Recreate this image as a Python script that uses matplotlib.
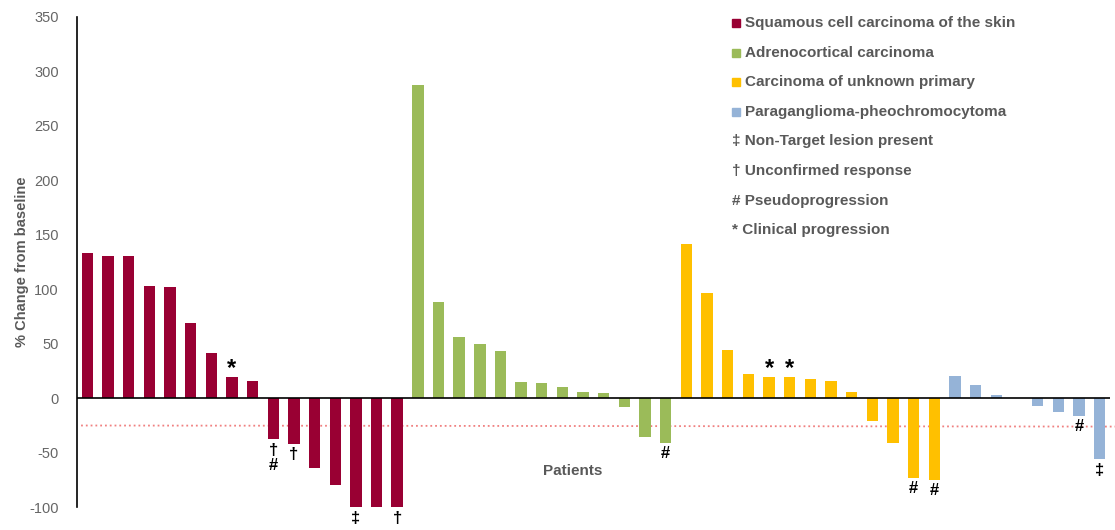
import matplotlib.pyplot as plt
import numpy as np

# values, one list per tumour type
squamous = [133, 131, 131, 103, 102, 69, 42, 19.5, 16,
            -37.5, -42, -64, -80, -100, -100, -100]
adrenocortical = [288, 88, 56, 49.5, 43, 15, 14, 10.5, 5.7, 4.5, -8, -36, -41]
unknown_primary = [142, 97, 44, 22, 19.5, 19.5, 18, 16, 6, -21, -41, -73, -75]
paraganglioma = [20.5, 12.5, 3, 0, -7, -12.5, -16, -56]

groups = [squamous, adrenocortical, unknown_primary, paraganglioma]
group_names = ['Squamous cell carcinoma of the skin', 'Adrenocortical carcinoma',
               'Carcinoma of unknown primary', 'Paraganglioma-pheochromocytoma']
colors = ['#990033', '#9BBB59', '#FFC000', '#95B3D7']
symbol_lines = ['\u2021 Non-Target lesion present', '\u2020 Unconfirmed response',
                '# Pseudoprogression', '* Clinical progression']

# per-bar markers (bar index, symbol)
ann_idx = [7, 9, 10, 13, 15, 28, 33, 34, 40, 41, 48, 49]
ann_sym = ['*', '\u2020\n#', '\u2020', '\u2021', '\u2020', '#', '*', '*', '#', '#', '#', '\u2021']

threshold = -25
yticks = [-100, -50, 0, 50, 100, 150, 200, 250, 300, 350]

plt.rcParams['font.family'] = ['Liberation Sans', 'DejaVu Sans']
plt.rcParams['axes.unicode_minus'] = False
grey = '#595959'

fig = plt.figure(figsize=(11.15, 5.30), dpi=100)
ax = fig.add_axes([0.069, 0.043, 0.9265, 0.925])

values = []
bar_colors = []
for g, c in zip(groups, colors):
    values += g
    bar_colors += [c] * len(g)
x = np.arange(len(values))
ax.bar(x, values, width=0.55, color=bar_colors, zorder=2)

ax.axhline(0, color='black', lw=1.2, zorder=3)
ax.plot([-0.3, 50.2], [threshold, threshold - 1], color='#F08080', ls=':', lw=1.3,
        clip_on=False, zorder=1)

for i, s in zip(ann_idx, ann_sym):
    v = values[i]
    if s == '*':
        ax.annotate(s, (i, v), xytext=(0, -2), textcoords='offset points',
                    ha='center', va='bottom', fontsize=17, fontweight='bold',
                    annotation_clip=False)
    else:
        ax.annotate(s, (i, v), xytext=(0, -2.5), textcoords='offset points',
                    ha='center', va='top', fontsize=12, fontweight='bold',
                    linespacing=1.0, annotation_clip=False)

ax.text(23.5, -67, 'Patients', ha='center', va='center', fontsize=11,
        fontweight='bold', color=grey)

ax.set_xlim(-0.5, 49.5)
ax.set_ylim(-100, 350)
ax.set_yticks(yticks)
ax.set_xticks([])
ax.tick_params(axis='y', length=0, pad=13, labelsize=10.5, labelcolor='#666666')
for sp in ['top', 'right', 'bottom']:
    ax.spines[sp].set_visible(False)
ax.spines['left'].set_linewidth(1.2)
ax.set_ylabel('% Change from baseline', fontsize=10.5, fontweight='bold',
              color=grey)
ax.yaxis.set_label_coords(-0.046, 0.5)

# legend drawn by hand, rows in figure pixels
W, H = 1115, 530
row_y = 23
for name, c in zip(group_names, colors):
    fig.patches.append(plt.Rectangle((732 / W, 1 - (row_y + 4) / H), 8 / W, 8 / H,
                                     transform=fig.transFigure, color=c))
    fig.text(745 / W, 1 - row_y / H, name, ha='left', va='center',
             fontsize=11, fontweight='bold', color=grey)
    row_y += 29.6
for line in symbol_lines:
    fig.text(732 / W, 1 - row_y / H, line, ha='left', va='center',
             fontsize=11, fontweight='bold', color=grey)
    row_y += 29.6

fig.savefig('out.png', dpi=100)
